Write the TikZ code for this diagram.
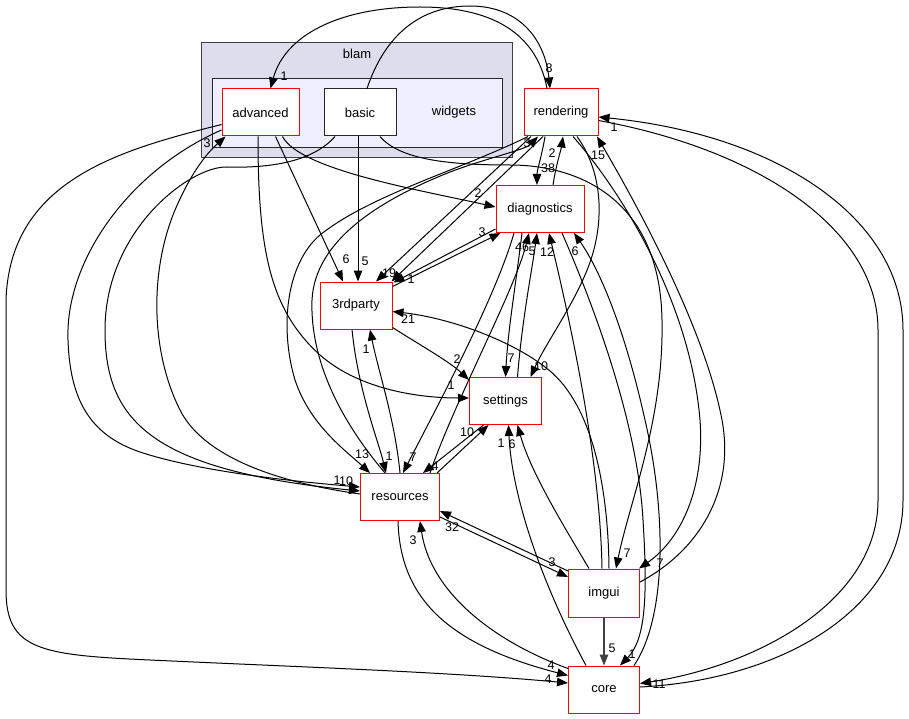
\documentclass[tikz,border=0pt]{standalone}
\usepackage{fontspec}
\setmainfont{Liberation Sans}
\usetikzlibrary{arrows.meta}
\begin{document}
\begin{tikzpicture}[x=1pt,y=-1pt,
  dirbox/.style={draw=red,line width=1pt,fill=white,minimum width=#1,minimum height=47pt,inner sep=0pt,font=\fontsize{13}{15}\selectfont},
  leafbox/.style={draw=black!85,line width=1pt,fill=white,minimum width=#1,minimum height=47pt,inner sep=0pt,font=\fontsize{13}{15}\selectfont},
  dep/.style={draw=black,line width=1pt,-{Triangle[length=11pt,width=8.5pt]}},
  lbl/.style={inner sep=0pt,font=\fontsize{12.5}{14}\selectfont},
  ttl/.style={inner sep=0pt,font=\fontsize{13}{15}\selectfont}]
\useasboundingbox (0,0) rectangle (909,719);
\fill[white] (0,0) rectangle (909,719);
% clusters
\draw[draw=black!75,fill={rgb,255:red,221;green,221;blue,238},line width=1pt] (201.5,43) rectangle (512.5,158);
\node[ttl] (tblam) at (357,54) {blam};
\draw[draw=black!85,fill={rgb,255:red,238;green,238;blue,255},line width=1pt] (212,78.5) rectangle (502,148);
\node[ttl] (twidgets) at (454,112.5) {widgets};
% nodes
\node[dirbox=77pt] (advanced) at (260.5,112.5) {advanced};
\node[leafbox=72pt] (basic) at (360,112.5) {basic};
\node[dirbox=74pt] (rendering) at (561,112.5) {rendering};
\node[dirbox=88pt] (diagnostics) at (540,209) {diagnostics};
\node[dirbox=72pt] (3rdparty) at (356,305.5) {3rdparty};
\node[dirbox=72pt] (settings) at (505.5,401) {settings};
\node[dirbox=79pt] (resources) at (400,497) {resources};
\node[dirbox=71pt,minimum height=48pt] (imgui) at (604,593) {imgui};
\node[dirbox=71pt] (core) at (604,689.5) {core};
% edges
\draw[dep] ([xshift=-14pt]rendering.north) .. controls (535,25) and (480,7) .. (420,7) .. controls (340,7) and (285,35) .. ([xshift=10pt]advanced.north);
\draw[dep] ([xshift=7pt]basic.north) .. controls (385,35) and (420,6) .. (470,6) .. controls (520,6) and (545,40) .. ([xshift=-11pt]rendering.north);
\draw[dep] ([xshift=15pt]advanced.south) -- ([xshift=-13pt]3rdparty.north);
\draw[dep] ([xshift=-2pt]basic.south) -- ([xshift=2pt]3rdparty.north);
\draw[dep] ([xshift=22pt]advanced.south) .. controls (300,170) and (420,190) .. ([yshift=2pt]diagnostics.west);
\draw[dep] ([xshift=-2.5pt]advanced.south) .. controls (258,250) and (270,310) .. (320,355) .. controls (360,390) and (420,398) .. ([yshift=3pt]settings.west);
\draw[dep] ([yshift=-17.5pt]advanced.west) .. controls (130,170) and (65,260) .. (68,340) .. controls (70,400) and (90,435) .. (140,452) .. controls (200,472) and (300,482) .. ([yshift=10pt]resources.west);
\draw[dep] ([xshift=-25pt]basic.south) .. controls (310,165) and (260,168) .. (227,167) .. controls (190,166) and (105,230) .. (105,330) .. controls (105,420) and (150,470) .. ([yshift=6pt]resources.west);
\draw[dep] ([yshift=-12pt]advanced.west) .. controls (120,150) and (10,180) .. (6,300) -- (6,590) .. controls (6,650) and (40,655) .. (150,660) .. controls (300,667) and (450,672) .. ([yshift=6.5pt]core.west);
\draw[dep] ([yshift=3pt]resources.west) .. controls (260,480) and (200,450) .. (180,410) .. controls (150,350) and (150,270) .. (175,210) .. controls (190,175) and (205,155) .. ([xshift=-35pt]advanced.south);
\draw[dep] ([xshift=20pt]basic.south) .. controls (400,160) and (450,165) .. (510,165) .. controls (580,165) and (660,200) .. (662,320) .. controls (664,420) and (630,500) .. ([xshift=12pt]imgui.north);
\draw[dep] ([xshift=-16pt]rendering.south) .. controls (542,155) and (537,170) .. ([xshift=-3pt]diagnostics.north);
\draw[dep] ([xshift=13pt]diagnostics.north) .. controls (556,165) and (561,150) .. ([xshift=2pt]rendering.south);
\draw[dep] ([xshift=-30pt]rendering.south) -- ([xshift=20pt]3rdparty.north);
\draw[dep] ([xshift=-18pt]rendering.south) -- ([xshift=-1pt]3rdparty.north east);
\draw[dep] ([yshift=-5pt]3rdparty.north east) -- ([xshift=5pt]diagnostics.south west);
\draw[dep] ([yshift=4pt]diagnostics.south west) -- ([xshift=1pt,yshift=-1pt]3rdparty.north east);
\draw[dep] ([xshift=-33pt]rendering.south) .. controls (460,170) and (370,195) .. (320,235) .. controls (285,265) and (280,330) .. (295,380) .. controls (310,425) and (345,450) .. ([xshift=-30pt]resources.north);
\draw[dep] ([xshift=-15pt]resources.north) .. controls (340,420) and (310,360) .. (312,300) .. controls (315,240) and (380,200) .. (450,172) .. controls (490,157) and (525,150) .. ([xshift=-23pt]rendering.south);
\draw[dep] ([xshift=-4pt]3rdparty.south) .. controls (358,390) and (378,440) .. ([xshift=-14pt]resources.north);
\draw[dep] (resources.north) .. controls (395,420) and (378,370) .. ([xshift=14pt]3rdparty.south);
\draw[dep] ([xshift=16pt]rendering.south) .. controls (605,175) and (605,230) .. (585,275) .. controls (570,310) and (545,345) .. ([xshift=25pt]settings.north);
\draw[dep] ([xshift=12pt]rendering.south) .. controls (620,190) and (690,300) .. (700,420) .. controls (705,490) and (680,540) .. ([xshift=-1pt]imgui.north east);
\draw[dep] ([yshift=11pt]imgui.east) .. controls (700,550) and (735,490) .. (722,420) .. controls (705,330) and (640,210) .. ([xshift=36pt]rendering.south);
\draw[dep] ([yshift=2.5pt]core.east) .. controls (780,680) and (903,610) .. (903,500) -- (903,330) .. controls (903,220) and (780,135) .. ([yshift=-4.5pt]rendering.east);
\draw[dep] ([yshift=-8pt]rendering.east) .. controls (760,150) and (878,230) .. (878,330) -- (878,500) .. controls (878,600) and (760,665) .. ([yshift=6pt]core.east);
\draw[dep] ([yshift=2pt]3rdparty.south east) .. controls (420,345) and (450,362) .. ([yshift=-3pt]settings.north west);
\draw[dep] ([xshift=5pt]imgui.north) .. controls (608,480) and (590,400) .. (545,367) .. controls (510,340) and (450,318) .. ([yshift=-6pt]3rdparty.east);
\draw[dep] ([xshift=-26pt]diagnostics.south) .. controls (495,300) and (430,420) .. ([xshift=3pt]resources.north);
\draw[dep] ([xshift=30pt]resources.north) .. controls (455,400) and (515,290) .. ([xshift=-11pt]diagnostics.south);
\draw[dep] ([xshift=12pt]settings.north) .. controls (522,320) and (532,270) .. ([xshift=-3pt]diagnostics.south);
\draw[dep] ([xshift=-18pt]diagnostics.south) .. controls (515,290) and (508,330) .. (settings.north);
\draw[dep] ([xshift=-2pt]imgui.north) .. controls (600,450) and (565,300) .. ([xshift=9pt]diagnostics.south);
\draw[dep] ([xshift=30pt]core.north) .. controls (665,620) and (668,520) .. (645,420) .. controls (625,330) and (600,270) .. ([xshift=34pt]diagnostics.south);
\draw[dep] ([xshift=22pt]diagnostics.south) .. controls (600,320) and (638,430) .. (643,520) .. controls (648,600) and (645,640) .. ([xshift=16pt]core.north);
\draw[dep] ([xshift=-22pt]settings.south) -- ([xshift=23pt]resources.north);
\draw[dep] ([xshift=37pt]resources.north) -- ([xshift=-17pt]settings.south);
\draw[dep] ([xshift=-18pt]core.north) .. controls (545,590) and (512,500) .. ([xshift=3pt]settings.south);
\draw[dep] ([xshift=-15pt]imgui.north) .. controls (560,520) and (530,470) .. ([xshift=12pt]settings.south);
\draw[dep] ([yshift=-20pt]resources.east) -- ([yshift=16pt]imgui.west);
\draw[dep] ([yshift=22pt]imgui.west) -- ([yshift=-14pt]resources.east);
\draw[dep] ([xshift=-2pt]resources.south) .. controls (400,600) and (450,645) .. ([yshift=14pt]core.west);
\draw[dep] ([yshift=21pt]core.west) .. controls (490,640) and (430,590) .. ([xshift=20pt]resources.south);
\draw[dep,draw=black!75,line width=1.4pt] (imgui.south) -- (core.north);
% labels
\node[lbl] (l1) at (284,76) {1};
\node[lbl] (l2) at (549,68) {8};
\node[lbl] (l3) at (207,143) {3};
\node[lbl] (l4) at (346,259) {6};
\node[lbl] (l5) at (365,261) {5};
\node[lbl] (l6) at (478,193) {2};
\node[lbl] (l7) at (527,143) {3};
\node[lbl] (l8) at (552,153) {2};
\node[lbl] (l9) at (548,168) {38};
\node[lbl] (l10) at (598,155) {15};
\node[lbl] (l11) at (614,127) {1};
\node[lbl] (l12) at (389,273) {19};
\node[lbl] (l13) at (411,279) {1};
\node[lbl] (l14) at (482,232) {3};
\node[lbl] (l15) at (522,247) {46};
\node[lbl] (l16) at (532,251) {5};
\node[lbl] (l17) at (547,252) {12};
\node[lbl] (l18) at (575,251) {6};
\node[lbl] (l19) at (408,319) {21};
\node[lbl] (l20) at (366,349) {1};
\node[lbl] (l21) at (457,359) {2};
\node[lbl] (l22) at (451,385) {1};
\node[lbl] (l23) at (511,358) {7};
\node[lbl] (l24) at (541,366) {10};
\node[lbl] (l25) at (362,454) {13};
\node[lbl] (l26) at (389,456) {1};
\node[lbl] (l27) at (413,457) {7};
\node[lbl] (l28) at (435,466) {4};
\node[lbl] (l29) at (467,432) {10};
\node[lbl] (l30) at (501,443) {1};
\node[lbl] (l31) at (512,444) {6};
\node[lbl] (l32) at (346,481) {10};
\node[lbl] (l33) at (337,480) {1};
\node[lbl] (l34) at (452,527) {32};
\node[lbl] (l35) at (413,540) {3};
\node[lbl] (l36) at (552,562) {3};
\node[lbl] (l37) at (627,553) {7};
\node[lbl] (l38) at (660,563) {7};
\node[lbl] (l39) at (612,648) {5};
\node[lbl] (l40) at (632,654) {1};
\node[lbl] (l41) at (551,665) {4};
\node[lbl] (l42) at (548,679) {4};
\node[lbl] (l43) at (659,684) {11};
\end{tikzpicture}
\end{document}
